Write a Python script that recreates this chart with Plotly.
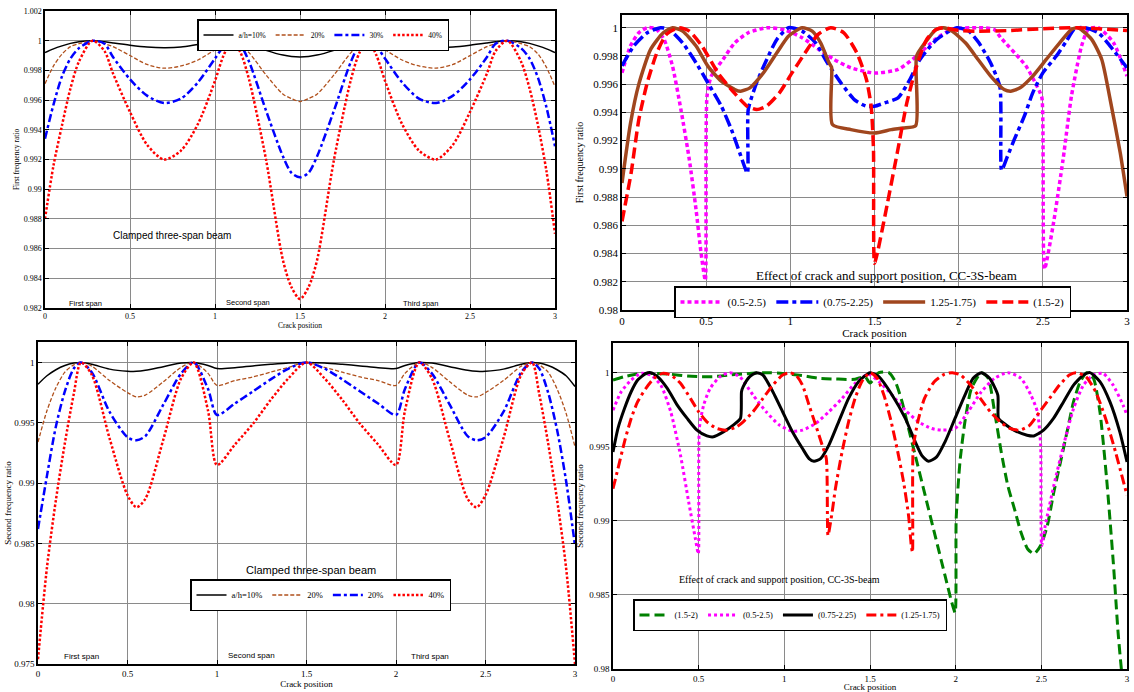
import plotly.graph_objects as go

W, H = 1134, 692
def px(x): return x / W
def py(y): return 1 - y / H

# ---------------- Top-left: first frequency ratio, crack depth ----------------
tl_x = [0, 0.05, 0.1, 0.15, 0.2, 0.28, 0.35, 0.4, 0.5, 0.6, 0.7, 0.8, 0.9, 1.0, 1.05, 1.1, 1.15, 1.2, 1.3, 1.4, 1.45, 1.5,
        1.55, 1.6, 1.7, 1.8, 1.85, 1.9, 1.95, 2.0, 2.1, 2.2, 2.3, 2.4, 2.5, 2.6, 2.65, 2.72, 2.8, 2.85, 2.9, 2.95, 3.0]
tl_10 = [0.9992, 0.99945, 0.99965, 0.99982, 0.99993, 1.0, 0.99993, 0.99985, 0.9997, 0.99958, 0.99953, 0.99957, 0.99975, 0.99993, 0.99998, 1.0, 0.99993, 0.99975, 0.99935, 0.99903, 0.99894, 0.99891,
         0.99894, 0.99903, 0.99935, 0.99975, 0.99993, 1.0, 0.99998, 0.99993, 0.99975, 0.99957, 0.99953, 0.99958, 0.9997, 0.99985, 0.99993, 1.0, 0.99993, 0.99982, 0.99965, 0.99945, 0.9992]
tl_20 = [0.9971, 0.9983, 0.9991, 0.9996, 0.9998, 1.0, 0.9998, 0.9996, 0.9990, 0.9984, 0.99815, 0.9983, 0.9987, 0.9994, 0.9998, 1.0, 0.9997, 0.9992, 0.9977, 0.9964, 0.9961, 0.9959,
         0.9961, 0.9964, 0.9977, 0.9992, 0.9997, 1.0, 0.9998, 0.9994, 0.9987, 0.9983, 0.99815, 0.9984, 0.9990, 0.9996, 0.9998, 1.0, 0.9998, 0.9996, 0.9991, 0.9982, 0.9969]
tl_30 = [0.9934, 0.9957, 0.9976, 0.9988, 0.9995, 1.0, 0.9998, 0.9989, 0.9974, 0.9963, 0.9958, 0.9961, 0.9972, 0.9988, 0.9996, 1.0, 0.9997, 0.9986, 0.9953, 0.9922, 0.9911, 0.9908,
         0.9911, 0.9922, 0.9953, 0.9986, 0.9997, 1.0, 0.9996, 0.9988, 0.9972, 0.9961, 0.9958, 0.9963, 0.9974, 0.9989, 0.9998, 1.0, 0.9995, 0.9988, 0.9975, 0.9955, 0.9929]
tl_40 = [0.9880, 0.9916, 0.9943, 0.9968, 0.9986, 1.0, 0.9993, 0.9978, 0.9952, 0.9930, 0.9920, 0.9926, 0.9944, 0.9973, 0.9990, 1.0, 0.9992, 0.9974, 0.9920, 0.9852, 0.9834, 0.9826,
         0.9834, 0.9852, 0.9920, 0.9974, 0.9992, 1.0, 0.9990, 0.9973, 0.9944, 0.9926, 0.9920, 0.9930, 0.9952, 0.9978, 0.9993, 1.0, 0.9986, 0.9968, 0.9943, 0.9912, 0.9870]
tl_names = ["a/h=10%", "20%", "30%", "40%"]

# ---------------- Top-right: first frequency ratio, support positions ----------------
tr_mag_x = [0, 0.05, 0.1, 0.15, 0.2, 0.25, 0.3, 0.35, 0.4, 0.44, 0.47, 0.495, 0.505, 0.53, 0.6, 0.67, 0.75, 0.86, 0.97, 1.07,
            1.17, 1.26, 1.36, 1.5, 1.64, 1.75, 1.86, 1.96, 2.12, 2.21, 2.25, 2.4, 2.48, 2.495, 2.51, 2.56, 2.62, 2.67, 2.73, 2.77,
            2.83, 2.92, 3.0]
tr_mag_y = [0.9968, 0.9987, 0.99964, 1.0, 0.99993, 0.99917, 0.99728, 0.9942, 0.99065, 0.9871, 0.9840, 0.9821, 0.99515, 0.99657, 0.99775, 0.99893, 0.99964, 1.0, 0.99983, 0.99929,
            0.99846, 0.99775, 0.99716, 0.99679, 0.99704, 0.99799, 0.99917, 0.99988, 1.0, 0.99988, 0.99929, 0.99728, 0.9955, 0.9950, 0.9829, 0.98592, 0.99065, 0.99515, 0.9987, 0.99988,
            1.0, 0.99893, 0.99657]
tr_blu_x = [0, 0.07, 0.15, 0.23, 0.28, 0.36, 0.44, 0.51, 0.59, 0.65, 0.7, 0.745, 0.75, 0.8, 0.86, 0.92, 0.99, 1.07, 1.15, 1.22,
            1.3, 1.38, 1.45, 1.5, 1.56, 1.64, 1.71, 1.77, 1.87, 1.99, 2.06, 2.12, 2.19, 2.245, 2.255, 2.29, 2.33, 2.39, 2.44, 2.5,
            2.58, 2.64, 2.69, 2.75, 2.83, 2.9, 3.0]
tr_blu_y = [0.9973, 0.9987, 0.99964, 1.0, 0.99988, 0.99893, 0.99751, 0.9961, 0.99444, 0.99278, 0.99112, 0.9897, 0.9942, 0.9961, 0.99775, 0.99917, 1.0, 0.99976, 0.99893, 0.99751,
            0.9961, 0.99491, 0.99444, 0.99444, 0.99467, 0.99503, 0.99633, 0.99775, 0.99917, 1.0, 0.99976, 0.99893, 0.9975, 0.9958, 0.9899, 0.99089, 0.99207, 0.99373, 0.99538, 0.9968,
            0.99799, 0.99905, 0.99993, 1.0, 0.99964, 0.9987, 0.99716]
tr_brn_x = [0, 0.05, 0.1, 0.17, 0.245, 0.3, 0.36, 0.44, 0.51, 0.59, 0.67, 0.705, 0.76, 0.84, 0.92, 0.99, 1.07, 1.13, 1.18, 1.23,
            1.245, 1.25, 1.36, 1.5, 1.6, 1.67, 1.745, 1.75, 1.8, 1.865, 1.91, 1.96, 2.04, 2.115, 2.19, 2.27, 2.31, 2.365, 2.44, 2.52,
            2.6, 2.67, 2.71, 2.79, 2.85, 2.9, 2.96, 3.0]
tr_brn_y = [0.9890, 0.9932, 0.9960, 0.99846, 0.99964, 1.0, 0.99976, 0.9987, 0.99728, 0.99621, 0.99562, 0.9955, 0.99574, 0.9968, 0.99822, 0.99941, 1.0, 0.99976, 0.99893, 0.99751,
            0.9972, 0.99314, 0.99278, 0.99254, 0.99278, 0.9929, 0.99307, 0.99799, 0.99893, 0.99988, 1.0, 0.99976, 0.99893, 0.99775, 0.99657, 0.99562, 0.9955, 0.99574, 0.99657, 0.99775,
            0.99893, 0.99988, 1.0, 0.99917, 0.99775, 0.99491, 0.99112, 0.98805]
tr_red_x = [0, 0.054, 0.1, 0.15, 0.207, 0.264, 0.34, 0.4, 0.475, 0.57, 0.667, 0.743, 0.8, 0.858, 0.935, 1.01, 1.088, 1.165, 1.24, 1.318,
            1.395, 1.452, 1.48, 1.494, 1.5, 1.52, 1.577, 1.635, 1.692, 1.75, 1.81, 1.865, 1.91, 2.0, 2.1, 2.3, 2.5, 2.7, 3.0]
tr_red_y = [0.98628, 0.9897, 0.99349, 0.9961, 0.99822, 0.99953, 1.0, 0.99976, 0.9987, 0.9968, 0.99538, 0.99444, 0.9942, 0.99444, 0.99538, 0.9968, 0.99822, 0.99953, 1.0, 0.99964,
            0.99822, 0.99633, 0.99444, 0.99136, 0.98331, 0.9842, 0.98757, 0.99112, 0.99467, 0.99728, 0.99917, 0.99986, 1.0, 0.9998, 0.99975, 0.9998, 0.99993, 1.0, 0.9998]
tr_names = ["(0.5-2.5)", "(0.75-2.25)", "1.25-1.75)", "(1.5-2)"]

# ---------------- Bottom-left: second frequency ratio, crack depth ----------------
bl_x = [0, 0.05, 0.1, 0.15, 0.2, 0.24, 0.3, 0.4, 0.5, 0.55, 0.6, 0.7, 0.8, 0.87, 0.95, 1.0, 1.1, 1.2, 1.3, 1.4, 1.5,
        1.6, 1.7, 1.8, 1.9, 2.0, 2.05, 2.13, 2.2, 2.3, 2.4, 2.45, 2.5, 2.6, 2.7, 2.76, 2.8, 2.85, 2.9, 2.95, 3.0]
bl_10 = [0.9982, 0.9989, 0.9994, 0.99975, 0.99995, 1.0, 0.99985, 0.99945, 0.99928, 0.99927, 0.99935, 0.99965, 0.99995, 1.0, 0.99975, 0.9995, 0.99957, 0.99972, 0.99985, 0.99996, 1.0,
         0.99996, 0.99985, 0.99972, 0.99957, 0.9995, 0.99975, 1.0, 0.99995, 0.99965, 0.99935, 0.99927, 0.99928, 0.99945, 0.99985, 1.0, 0.99995, 0.99975, 0.9994, 0.9989, 0.9980]
bl_20 = [0.9934, 0.9960, 0.9979, 0.9992, 0.9998, 1.0, 0.9997, 0.9985, 0.9975, 0.99715, 0.9973, 0.9984, 0.9996, 1.0, 0.9991, 0.9981, 0.9985, 0.9988, 0.9992, 0.9996, 1.0,
         0.9996, 0.9992, 0.9988, 0.9985, 0.9981, 0.9991, 1.0, 0.9996, 0.9984, 0.9973, 0.99715, 0.9975, 0.9985, 0.9997, 1.0, 0.9998, 0.9992, 0.9978, 0.9958, 0.9930]
bl_30 = [0.9862, 0.9906, 0.9947, 0.9976, 0.9995, 1.0, 0.9992, 0.9959, 0.9938, 0.99355, 0.9939, 0.9965, 0.9991, 1.0, 0.9978, 0.99565, 0.9966, 0.9976, 0.9986, 0.9995, 1.0,
         0.9995, 0.9986, 0.9976, 0.9966, 0.99565, 0.9978, 1.0, 0.9991, 0.9965, 0.9939, 0.99355, 0.9938, 0.9959, 0.9992, 1.0, 0.9995, 0.9975, 0.9944, 0.9902, 0.9848]
bl_40 = [0.9754, 0.9830, 0.9886, 0.9933, 0.9974, 1.0, 0.9990, 0.9937, 0.9890, 0.9880, 0.9887, 0.9936, 0.9987, 1.0, 0.9960, 0.9915, 0.9932, 0.9949, 0.9969, 0.9987, 1.0,
         0.9987, 0.9969, 0.9949, 0.9932, 0.9915, 0.9960, 1.0, 0.9987, 0.9936, 0.9887, 0.9880, 0.9890, 0.9937, 0.9990, 1.0, 0.9974, 0.9933, 0.9886, 0.9830, 0.9750]
bl_names = ["a/h=10%", "20%", "20%", "40%"]

# ---------------- Bottom-right: second frequency ratio, support positions ----------------
br_grn_x = [0, 0.067, 0.144, 0.24, 0.337, 0.433, 0.5, 0.587, 0.683, 0.78, 0.875, 0.99, 1.106, 1.2, 1.298, 1.413, 1.47, 1.5, 1.552, 1.61,
            1.648, 1.687, 1.725, 1.764, 1.822, 1.88, 1.938, 1.977, 1.997, 2.003, 2.025, 2.054, 2.092, 2.15, 2.19, 2.227, 2.266, 2.304, 2.343, 2.381,
            2.42, 2.458, 2.496, 2.535, 2.573, 2.612, 2.65, 2.688, 2.727, 2.765, 2.804, 2.842, 2.881, 2.92, 2.948, 2.967, 2.99]
br_grn_y = [0.9995, 0.99973, 0.99991, 0.99995, 0.99989, 0.99977, 0.99973, 0.99973, 0.99984, 0.99993, 1.0, 0.99995, 0.9998, 0.99962, 0.99957, 0.99955, 0.99973, 0.9993, 1.0, 1.0,
            0.99939, 0.99804, 0.99623, 0.99442, 0.99171, 0.989, 0.9863, 0.9845, 0.9838, 0.99016, 0.99397, 0.99668, 0.99894, 1.0, 0.99962, 0.99736, 0.99465, 0.99239, 0.99081, 0.98923,
            0.9881, 0.98777, 0.98833, 0.98968, 0.99194, 0.99397, 0.996, 0.99804, 0.99939, 1.0, 0.99962, 0.99736, 0.99284, 0.9872, 0.98246, 0.98, 0.9775]
br_mag_x = [0, 0.048, 0.106, 0.163, 0.221, 0.279, 0.337, 0.394, 0.442, 0.481, 0.498, 0.504, 0.529, 0.567, 0.625, 0.683, 0.74, 0.817, 0.894, 0.971,
            1.048, 1.106, 1.183, 1.26, 1.337, 1.413, 1.49, 1.552, 1.629, 1.706, 1.783, 1.86, 1.919, 1.996, 2.073, 2.15, 2.227, 2.304, 2.381, 2.439,
            2.477, 2.496, 2.502, 2.523, 2.573, 2.63, 2.688, 2.746, 2.804, 2.861, 2.919, 2.977, 3.0]
br_mag_y = [0.99747, 0.99871, 0.9995, 0.99995, 0.99984, 0.99916, 0.99736, 0.99442, 0.99126, 0.98878, 0.98777, 0.99624, 0.99781, 0.99894, 0.99973, 1.0, 0.99973, 0.99849, 0.99736, 0.99646,
            0.99605, 0.99612, 0.99657, 0.99736, 0.99826, 0.99928, 0.99989, 0.99939, 0.99849, 0.99747, 0.99668, 0.99623, 0.99612, 0.99623, 0.99736, 0.99871, 0.99962, 1.0, 0.99962, 0.99849,
            0.99736, 0.99511, 0.98833, 0.98968, 0.99239, 0.99511, 0.99758, 0.99916, 0.99984, 0.99995, 0.99916, 0.99781, 0.99713]
br_blk_x = [0, 0.029, 0.067, 0.106, 0.144, 0.192, 0.221, 0.26, 0.317, 0.375, 0.433, 0.49, 0.548, 0.587, 0.644, 0.702, 0.744, 0.75, 0.76, 0.798,
            0.837, 0.875, 0.933, 0.99, 1.048, 1.106, 1.144, 1.173, 1.212, 1.26, 1.317, 1.375, 1.433, 1.5, 1.552, 1.629, 1.706, 1.764, 1.802, 1.841,
            1.889, 1.938, 1.996, 2.054, 2.102, 2.15, 2.198, 2.246, 2.25, 2.283, 2.34, 2.417, 2.456, 2.513, 2.571, 2.63, 2.688, 2.746, 2.784, 2.842,
            2.9, 2.958, 3.0]
br_blk_y = [0.99465, 0.99624, 0.99758, 0.99871, 0.9995, 0.99995, 1.0, 0.99973, 0.99894, 0.99781, 0.99691, 0.99612, 0.99573, 0.99567, 0.996, 0.99646, 0.99691, 0.99871, 0.99905, 0.99973,
            1.0, 0.99984, 0.99871, 0.99736, 0.996, 0.99488, 0.9942, 0.99402, 0.9942, 0.99511, 0.99668, 0.99826, 0.99939, 1.0, 0.99973, 0.99849, 0.99691, 0.99533, 0.99442, 0.99402,
            0.99431, 0.99533, 0.99691, 0.99849, 0.99962, 1.0, 0.99962, 0.99849, 0.99691, 0.99657, 0.99612, 0.99578, 0.99573, 0.99612, 0.99691, 0.99804, 0.99916, 0.99984, 1.0, 0.99939,
            0.99804, 0.996, 0.99397]
br_red_x = [0, 0.029, 0.067, 0.106, 0.144, 0.192, 0.24, 0.288, 0.337, 0.394, 0.452, 0.5, 0.548, 0.606, 0.663, 0.721, 0.76, 0.817, 0.875, 0.933,
            0.99, 1.029, 1.067, 1.106, 1.144, 1.183, 1.221, 1.245, 1.255, 1.279, 1.298, 1.337, 1.375, 1.413, 1.452, 1.5, 1.542, 1.581, 1.619, 1.658,
            1.696, 1.725, 1.741, 1.748, 1.752, 1.779, 1.818, 1.875, 1.933, 1.98, 2.029, 2.087, 2.144, 2.202, 2.26, 2.318, 2.375, 2.433, 2.49, 2.548,
            2.606, 2.663, 2.702, 2.76, 2.817, 2.875, 2.933, 3.0]
br_red_y = [0.99217, 0.99352, 0.99533, 0.99691, 0.99804, 0.99894, 0.99962, 0.99995, 0.99984, 0.99928, 0.99826, 0.99736, 0.99668, 0.99623, 0.99612, 0.99634, 0.99668, 0.99736, 0.99826, 0.99916,
            0.99984, 1.0, 0.99984, 0.99916, 0.99781, 0.99646, 0.9951, 0.9942, 0.98901, 0.99059, 0.99217, 0.99465, 0.99668, 0.99826, 0.99939, 1.0, 0.99962, 0.99849, 0.99691, 0.99488,
            0.99262, 0.99036, 0.98833, 0.98788, 0.99488, 0.99668, 0.99826, 0.99939, 0.99989, 1.0, 0.99984, 0.99916, 0.99826, 0.99736, 0.99668, 0.99623, 0.99612, 0.99646, 0.99736, 0.99826,
            0.99916, 0.99984, 1.0, 0.99973, 0.99871, 0.99691, 0.99465, 0.99172]
br_names = ["(1.5-2)", "(0.5-2.5)", "(0.75-2.25)", "(1.25-1.75)"]

SERIF = "Liberation Serif, Times New Roman, serif"
SANS = "Liberation Sans, Arial, sans-serif"
BROWN_THIN = "#B0501C"
BROWN = "#A0461E"

fig = go.Figure()

def add(x, y, name, color, dash, width, xa, ya, legend, smooth=0.6):
    fig.add_trace(go.Scatter(x=x, y=y, name=name, mode="lines",
                             line=dict(color=color, dash=dash, width=width, shape="spline", smoothing=smooth),
                             xaxis=xa, yaxis=ya, legend=legend))

# Top-left
add(tl_x, tl_10, tl_names[0], "black", "solid", 1.5, "x", "y", "legend", smooth=0.8)
add(tl_x, tl_20, tl_names[1], BROWN_THIN, "4px,2px", 1.3, "x", "y", "legend", smooth=0.8)
add(tl_x, tl_30, tl_names[2], "blue", "8px,3px,3px,3px", 2.5, "x", "y", "legend", smooth=0.8)
add(tl_x, tl_40, tl_names[3], "red", "2.5px,2px", 2.5, "x", "y", "legend", smooth=0.8)
# Top-right
add(tr_mag_x, tr_mag_y, tr_names[0], "#FF00FF", "4px,3px", 3.5, "x2", "y2", "legend2")
add(tr_blu_x, tr_blu_y, tr_names[1], "blue", "12px,4px,4px,4px", 3.5, "x2", "y2", "legend2")
add(tr_brn_x, tr_brn_y, tr_names[2], BROWN, "solid", 3.5, "x2", "y2", "legend2")
add(tr_red_x, tr_red_y, tr_names[3], "red", "11px,5px", 3.5, "x2", "y2", "legend2")
# Bottom-left
add(bl_x, bl_10, bl_names[0], "black", "solid", 1.5, "x3", "y3", "legend3", smooth=0.8)
add(bl_x, bl_20, bl_names[1], BROWN_THIN, "4px,2px", 1.3, "x3", "y3", "legend3", smooth=0.8)
add(bl_x, bl_30, bl_names[2], "blue", "8px,3px,3px,3px", 2.5, "x3", "y3", "legend3", smooth=0.8)
add(bl_x, bl_40, bl_names[3], "red", "2.5px,2px", 2.5, "x3", "y3", "legend3", smooth=0.8)
# Bottom-right
add(br_grn_x, br_grn_y, br_names[0], "green", "10px,5px", 3, "x4", "y4", "legend4")
add(br_mag_x, br_mag_y, br_names[1], "#FF00FF", "3px,3px", 3, "x4", "y4", "legend4")
add(br_blk_x, br_blk_y, br_names[2], "black", "solid", 3, "x4", "y4", "legend4")
add(br_red_x, br_red_y, br_names[3], "red", "10px,4px,3px,4px", 3, "x4", "y4", "legend4")

def xax(dom, anchor, fs, tfs, standoff):
    return dict(domain=dom, anchor=anchor, range=[0, 3], tick0=0, dtick=0.5, showgrid=True, gridcolor="#8a8a8a",
                gridwidth=1, zeroline=False, showline=True, linecolor="black", linewidth=1.5, mirror="ticks",
                ticks="inside", ticklen=4, tickcolor="black", tickfont=dict(family=SERIF, size=fs, color="black"),
                title=dict(text="Crack position", font=dict(family=SERIF, size=tfs, color="black"), standoff=standoff),
                automargin=False)

def yax(dom, anchor, rng, dt, fs, title, tfs, standoff):
    return dict(domain=dom, anchor=anchor, range=rng, tick0=1, dtick=dt, showgrid=True, gridcolor="#8a8a8a",
                gridwidth=1, zeroline=False, showline=True, linecolor="black", linewidth=1.5, mirror="ticks",
                ticks="inside", ticklen=4, tickcolor="black", tickfont=dict(family=SERIF, size=fs, color="black"),
                title=dict(text=title, font=dict(family=SERIF, size=tfs, color="black"), standoff=standoff),
                automargin=False)

def leg(x, y, fs, iw=30, bw=1.5):
    return dict(x=x, y=y, xanchor="left", yanchor="top", orientation="h", bgcolor="white",
                bordercolor="black", borderwidth=bw, font=dict(family=SERIF, size=fs, color="black"),
                tracegroupgap=0, itemwidth=iw, traceorder="normal")

ann = []
def note(x, y, text, fam, size):
    ann.append(dict(x=px(x), y=py(y), xref="paper", yref="paper", text=text, showarrow=False,
                    font=dict(family=fam, size=size, color="black"), xanchor="center", yanchor="middle"))

note(172, 235, "Clamped three-span beam", SANS, 10)
note(85, 303, "First span", SANS, 7.5)
note(248, 302, "Second span", SANS, 7.5)
note(420, 303, "Third span", SANS, 7.5)
note(886, 275, "Effect of crack and support position, CC-3S-beam", SERIF, 13)
note(311, 570, "Clamped three-span beam", SANS, 11)
note(81, 656, "First span", SANS, 8)
note(251, 655, "Second span", SANS, 8)
note(430, 656, "Third span", SANS, 8)
note(779, 579, "Effect of crack and support position, CC-3S-beam", SERIF, 10)

fig.update_layout(
    width=W, height=H, margin=dict(l=0, r=0, t=0, b=0), paper_bgcolor="white", plot_bgcolor="white",
    xaxis=xax([px(45), px(555)], "y", 8, 7.5, 2),
    yaxis=yax([py(308), py(11)], "x", [0.982, 1.002], 0.002, 8, "First frequency ratio", 7.5, 3),
    xaxis2=xax([px(622), px(1127)], "y2", 11, 11, 0),
    yaxis2=yax([py(310), py(15)], "x2", [0.98, 1.0009], 0.002, 11, "First frequency ratio", 10, 8),
    xaxis3=xax([px(38), px(575)], "y3", 9, 9, 0),
    yaxis3=yax([py(664), py(342)], "x3", [0.975, 1.0017], 0.005, 9, "Second frequency ratio", 9, 1),
    xaxis4=xax([px(613), px(1127)], "y4", 9, 9, 0),
    yaxis4=yax([py(669), py(343)], "x4", [0.98, 1.002], 0.005, 9, "Second frequency ratio", 9, 4),
    legend=leg(px(197), py(19), 7.5),
    legend2=leg(px(674), py(286), 11, iw=42),
    legend3=leg(px(190), py(579), 8.5),
    legend4=leg(px(633), py(599), 8.5),
    annotations=ann,
    showlegend=True,
)

fig.write_html("out.html")
